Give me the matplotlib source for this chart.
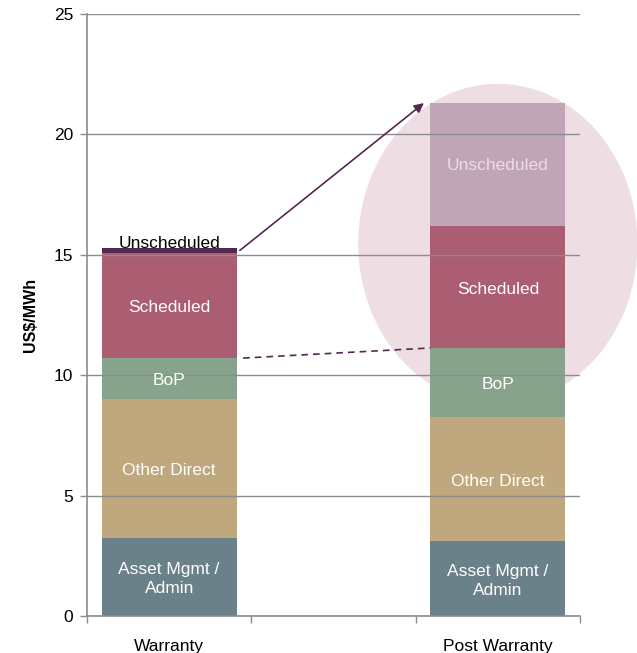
import matplotlib
matplotlib.use("Agg")
import matplotlib.pyplot as plt
from matplotlib.patches import Ellipse
import numpy as np

plt.rcParams['font.family'] = ['Liberation Sans', 'DejaVu Sans']

# Cost stack per period (US$/MWh); middle slot left empty
categories = ["Warranty", "", "Post Warranty"]
components = ["Asset Mgmt /\nAdmin", "Other Direct", "BoP", "Scheduled", "Unscheduled"]
warranty_vals = [3.25, 5.76, 1.70, 4.36, 0.21]
post_vals = [3.11, 5.15, 2.87, 5.07, 5.10]
colors = ["#6B8189", "#BFA77E", "#87A38B", "#AB5E72", "#542850"]
post_unsched_color = "#B89BAF"
yticks = [0, 5, 10, 15, 20, 25]

fig = plt.figure(figsize=(6.37, 6.53), dpi=100)
ax = fig.add_axes([0.1366, 0.0567, 0.9105 - 0.1366, 0.9786 - 0.0567])

x = np.arange(len(categories))
ax.set_xlim(-0.5, 2.5)
ax.set_ylim(0, 25)

# Highlight circle around the post-warranty stack
ell = Ellipse((2.0, 15.45), width=1.70, height=13.3, facecolor="#EEDEE3",
              edgecolor="none", zorder=0.5, clip_on=False)
ax.add_patch(ell)

ax.set_yticks(yticks)
ax.yaxis.grid(True, color="#8C8C8C", linewidth=1.0, zorder=1)
ax.set_axisbelow(False)
for gl in ax.get_ygridlines():
    gl.set_zorder(1)

fs = 12.5
bw = 0.82
bottom_w = 0.0
bottom_p = 0.0
for i, (name, wv, pv, c) in enumerate(zip(components, warranty_vals, post_vals, colors)):
    ax.bar(x[0], wv, bw, bottom=bottom_w, color=c, zorder=2, linewidth=0)
    if i == len(components) - 1:
        ax.bar(x[2], pv, bw, bottom=bottom_p, color=post_unsched_color, alpha=0.85,
               zorder=2, linewidth=0)
    else:
        ax.bar(x[2], pv, bw, bottom=bottom_p, color=c, zorder=2, linewidth=0)

    if i < len(components) - 1:
        ax.text(x[0], bottom_w + wv / 2 - 0.1, name, ha="center", va="center",
                color="white", fontsize=fs, zorder=3, linespacing=1.35)
        ax.text(x[2], bottom_p + pv / 2 - 0.1, name, ha="center", va="center",
                color="white", fontsize=fs, zorder=3, linespacing=1.35)
    else:
        ax.text(x[0], bottom_w + wv - 0.12, name, ha="center", va="bottom",
                color="black", fontsize=fs, zorder=3)
        ax.text(x[2], bottom_p + pv / 2 - 0.05, name, ha="center", va="center",
                color="#EBDDE6", fontsize=fs, zorder=3)
    bottom_w += wv
    bottom_p += pv

# Growth arrow from warranty total to post-warranty total
w_total = sum(warranty_vals)
p_total = sum(post_vals)
ax.annotate("", xy=(x[2] - bw / 2 - 0.04, p_total), xytext=(x[0] + bw / 2 + 0.02, w_total - 0.1),
            arrowprops=dict(arrowstyle="-|>", color="#542850", lw=1.2,
                            mutation_scale=14, shrinkA=0, shrinkB=0), zorder=4)
# Dashed connector at the BoP level
w_bop = sum(warranty_vals[:3])
p_bop = sum(post_vals[:3])
ax.plot([x[0] + bw / 2 + 0.04, x[2] - bw / 2], [w_bop, p_bop], linestyle=(0, (4, 3)),
        color="#542850", lw=1.2, zorder=4)

ax.set_xticks([-0.5, 0.5, 1.5, 2.5])
ax.set_xticklabels([])
ax.tick_params(axis="x", length=5, color="#8C8C8C", width=1)
for xi, lab in zip(x, categories):
    if lab:
        ax.text(xi, -0.95, lab, ha="center", va="top", fontsize=fs)

ax.tick_params(axis="y", length=5, color="#8C8C8C", width=1, labelsize=12.5, pad=5)
ax.set_ylabel("US$/MWh", fontsize=11.5, fontweight="bold", labelpad=11)

for s in ["top", "right"]:
    ax.spines[s].set_visible(False)
for s in ["left", "bottom"]:
    ax.spines[s].set_color("#8C8C8C")
    ax.spines[s].set_linewidth(1.2)
    ax.spines[s].set_zorder(5)

fig.savefig("out.png", dpi=100)
